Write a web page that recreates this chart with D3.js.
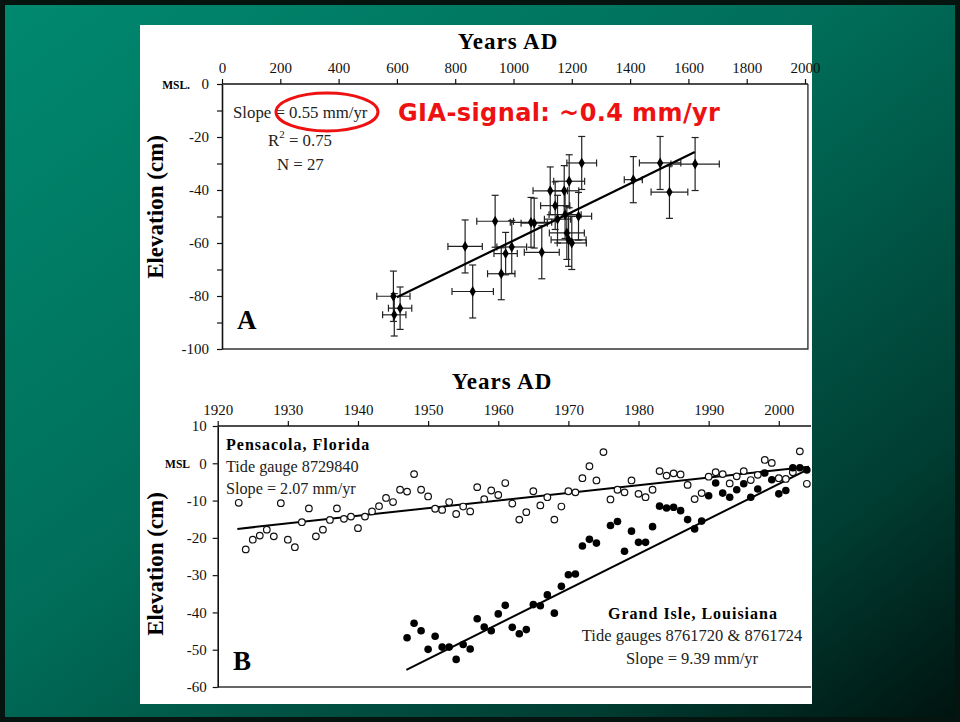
<!DOCTYPE html>
<html>
<head>
<meta charset="utf-8">
<script src="https://cdn.jsdelivr.net/npm/d3@7"></script>
<style>
  body { margin: 0; background: #000; }
  svg text { font-family: "Liberation Serif", "Times New Roman", serif; }
</style>
</head>
<body>
<div id="chart"></div>
<script>
// ---- panel A: salt-marsh index points (years AD, elevation cm, errors)
var yearsA = [588, 611, 591, 834, 860, 937, 958, 973, 994, 1060, 1071, 1097, 1126, 1143,
              1151, 1174, 1191, 1177, 1183, 1189, 1200, 1223, 1234, 1411, 1503, 1535, 1623];
var elevA  = [-80.1, -84.6, -87.1, -61.3, -78.3, -51.8, -71.6, -64.0, -61.5, -52.2, -52.5, -63.5, -40.3, -45.9,
              -51.0, -40.3, -36.7, -49.3, -56.2, -58.8, -60.0, -49.9, -29.8, -36.1, -29.8, -40.8, -30.2];
var xErrA  = [57, 40, 40, 59, 71, 63, 47, 40, 51, 71, 45, 60, 59, 50,
              45, 50, 53, 55, 60, 60, 50, 45, 51, 31, 71, 63, 83];
var yErrA  = [9.5, 8, 8, 10, 10, 9.8, 9.8, 8, 10, 9.4, 9.4, 10, 9, 9,
              9, 9.5, 10, 9, 10, 10, 10, 9, 10, 8.7, 10, 9.9, 10];
var fitYearsA = [600, 1622];
var fitElevA  = [-80.5, -25.7];
var ticksXA = d3.range(0, 2001, 200);
var ticksYA = d3.range(-100, 1, 10);

// ---- panel B: tide gauges
var yearsPen = [1923, 1924, 1925, 1926, 1927, 1928, 1929, 1930, 1931, 1932, 1933, 1934, 1935, 1936,
                1937, 1938, 1939, 1940, 1941, 1942, 1943, 1944, 1945, 1946, 1947, 1948, 1949, 1950,
                1951, 1952, 1953, 1954, 1955, 1956, 1957, 1958, 1959, 1960, 1961, 1962, 1963, 1964,
                1965, 1966, 1967, 1968, 1969, 1970, 1971, 1972, 1973, 1974, 1975, 1976, 1977, 1978,
                1979, 1980, 1981, 1982, 1983, 1984, 1985, 1986, 1987, 1988, 1989, 1990, 1991, 1992,
                1993, 1994, 1995, 1996, 1997, 1998, 1999, 2000, 2001, 2002, 2003, 2004];
var elevPen  = [-10.6, -23.1, -20.5, -19.4, -17.8, -19.6, -10.7, -20.5, -22.5, -15.8, -12.1, -19.6, -17.8, -15.2,
                -12.1, -14.9, -14.3, -17.4, -14.3, -12.9, -11.5, -9.3, -10.4, -7.1, -7.6, -2.9, -7.1, -8.9,
                -12.2, -12.5, -10.4, -13.6, -11.6, -12.9, -6.4, -9.6, -7.3, -8.5, -5.3, -10.8, -15.1, -13.1,
                -7.5, -11.3, -9.1, -15.1, -11.6, -7.5, -7.8, -4.0, -0.8, -4.6, 3.0, -9.7, -7.1, -7.8,
                -4.6, -8.2, -9.1, -7.1, -2.1, -3.3, -2.7, -3.0, -5.8, -9.6, -8.0, -3.6, -2.4, -2.9,
                -5.4, -3.5, -2.1, -4.5, -3.1, 0.9, 0.1, -4.0, -4.2, -2.4, 3.2, -5.5];
// Grand Isle (no reading for 1975)
var yearsGI  = [1947, 1948, 1949, 1950, 1951, 1952, 1953, 1954, 1955, 1956, 1957, 1958, 1959, 1960,
                1961, 1962, 1963, 1964, 1965, 1966, 1967, 1968, 1969, 1970, 1971, 1972, 1973, 1974,
                1976, 1977, 1978, 1979, 1980, 1981, 1982, 1983, 1984, 1985, 1986, 1987, 1988,
                1989, 1990, 1991, 1992, 1993, 1994, 1995, 1996, 1997, 1998, 1999, 2000, 2001, 2002,
                2003, 2004];
var elevGI   = [-46.8, -42.9, -44.9, -49.9, -46.4, -49.3, -49.3, -52.6, -48.6, -49.8, -41.7, -43.9, -44.9, -40.4,
                -38.1, -44.0, -45.7, -44.6, -37.9, -38.2, -35.3, -40.2, -33.0, -29.9, -29.7, -22.2, -20.4, -21.4,
                -16.7, -15.6, -23.6, -18.2, -21.2, -21.2, -17.0, -11.5, -12.0, -11.8, -12.7, -15.1, -17.6, -15.5,
                -8.7, -5.3, -8.0, -9.1, -7.1, -5.5, -9.1, -6.9, -2.6, -4.4, -8.2, -7.3, -1.2, -1.2,
                -1.8, -1.9];
var fitYearsPen = [1922.8, 2004.3];
var fitElevPen  = [-17.6, -0.9];
var fitYearsGI  = [1946.9, 2004.3];
var fitElevGI   = [-55.4, -1.5];
var ticksXB = d3.range(1920, 2001, 10);
var ticksYB = d3.range(-60, 11, 10);

var W = 960, H = 722;
var svg = d3.select("#chart").append("svg")
    .attr("width", W)
    .attr("height", H);

// slide background
var defs = svg.append("defs");
var grad = defs.append("linearGradient")
    .attr("id", "bg")
    .attr("x1", 0).attr("y1", 0).attr("x2", 1).attr("y2", 1);
grad.append("stop").attr("offset", "0%").attr("stop-color", "#00896f");
grad.append("stop").attr("offset", "45%").attr("stop-color", "#006d59");
grad.append("stop").attr("offset", "80%").attr("stop-color", "#003d32");
grad.append("stop").attr("offset", "100%").attr("stop-color", "#00120e");
svg.append("rect").attr("width", W).attr("height", H).attr("fill", "url(#bg)");
svg.append("rect")
    .attr("x", 2.5).attr("y", 2.5).attr("width", W - 5).attr("height", H - 5)
    .attr("fill", "none").attr("stroke", "#06140f").attr("stroke-width", 5);

// white figure panel
svg.append("rect")
    .attr("x", 140).attr("y", 25).attr("width", 672).attr("height", 679)
    .attr("fill", "#fff");

function styleAxis(g) {
  g.selectAll("path.domain").attr("stroke", "#111").attr("stroke-width", 1.6);
  g.selectAll(".tick line").attr("stroke", "#111").attr("stroke-width", 1.2);
  g.selectAll(".tick text")
    .attr("fill", "#111")
    .style("font-family", "'Liberation Serif', serif")
    .style("font-size", "15px");
}

// ================= panel A =================
var xA = d3.scaleLinear().domain([0, 2000]).range([222, 805]);
var yA = d3.scaleLinear().domain([-100, 0]).range([349, 84]);

var gA = svg.append("g");

// frame (right and bottom)
gA.append("path")
    .attr("d", "M" + xA(0) + "," + yA(-100) + "H" + xA(2010) + "V" + yA(0))
    .attr("fill", "none").attr("stroke", "#333").attr("stroke-width", 1.4);

gA.append("g")
    .attr("transform", "translate(0," + yA(0) + ")")
    .call(d3.axisTop(xA).tickValues(ticksXA).tickSize(5).tickPadding(6).tickSizeOuter(0).tickFormat(d3.format("d")))
    .call(styleAxis)
  .select("path.domain").attr("d", "M" + xA(0) + ",0H" + xA(2010));

gA.append("g")
    .attr("transform", "translate(" + xA(0) + ",0)")
    .call(d3.axisLeft(yA).tickValues(ticksYA).tickSize(5).tickPadding(8).tickSizeOuter(0)
      .tickFormat(function(d) { return (d % 20 === 0) ? String(d) : ""; }))
    .call(styleAxis);

gA.append("text")
    .attr("x", 190).attr("y", yA(0) + 5)
    .attr("text-anchor", "end")
    .attr("font-size", "11.5px").attr("font-weight", "bold")
    .text("MSL.");

gA.append("text")
    .attr("x", 508).attr("y", 49)
    .attr("text-anchor", "middle")
    .attr("font-size", "23px").attr("font-weight", "bold")
    .attr("letter-spacing", "1px")
    .text("Years AD");

gA.append("text")
    .attr("transform", "translate(163," + 207 + ") rotate(-90)")
    .attr("text-anchor", "middle")
    .attr("font-size", "23px").attr("font-weight", "bold")
    .text("Elevation (cm)");

// error bars
var ptsA = yearsA.map(function(d, i) {
  return {yr: d, el: elevA[i], ex: xErrA[i], ey: yErrA[i]};
});
var eb = gA.selectAll("g.eb").data(ptsA).enter().append("g")
    .attr("stroke", "#222").attr("stroke-width", 1.2);
eb.append("line")
    .attr("x1", function(d) { return xA(d.yr - d.ex); })
    .attr("x2", function(d) { return xA(d.yr + d.ex); })
    .attr("y1", function(d) { return yA(d.el); })
    .attr("y2", function(d) { return yA(d.el); });
eb.append("line")
    .attr("x1", function(d) { return xA(d.yr); })
    .attr("x2", function(d) { return xA(d.yr); })
    .attr("y1", function(d) { return yA(d.el - d.ey); })
    .attr("y2", function(d) { return yA(d.el + d.ey); });
// caps
[-1, 1].forEach(function(s) {
  eb.append("line")
      .attr("x1", function(d) { return xA(d.yr + s * d.ex); })
      .attr("x2", function(d) { return xA(d.yr + s * d.ex); })
      .attr("y1", function(d) { return yA(d.el) - 3.5; })
      .attr("y2", function(d) { return yA(d.el) + 3.5; });
  eb.append("line")
      .attr("x1", function(d) { return xA(d.yr) - 3.5; })
      .attr("x2", function(d) { return xA(d.yr) + 3.5; })
      .attr("y1", function(d) { return yA(d.el + s * d.ey); })
      .attr("y2", function(d) { return yA(d.el + s * d.ey); });
});

// regression line
var fitA = fitYearsA.map(function(d, i) { return [d, fitElevA[i]]; });
gA.append("path")
    .datum(fitA)
    .attr("d", d3.line().x(function(d) { return xA(d[0]); }).y(function(d) { return yA(d[1]); }))
    .attr("stroke", "#000").attr("stroke-width", 2.2).attr("fill", "none");

// diamonds
gA.selectAll("path.pt").data(ptsA).enter().append("path")
    .attr("class", "pt")
    .attr("d", d3.symbol().type(d3.symbolDiamond).size(34))
    .attr("transform", function(d) { return "translate(" + xA(d.yr) + "," + yA(d.el) + ")"; })
    .attr("fill", "#000");

// stats text
gA.append("text").attr("x", 233).attr("y", 118).attr("font-size", "16.8px").attr("fill", "#222")
    .text("Slope = 0.55 mm/yr");
var r2 = gA.append("text").attr("x", 268).attr("y", 146).attr("font-size", "16.8px").attr("fill", "#222");
r2.append("tspan").text("R");
r2.append("tspan").attr("dy", -8).attr("font-size", "11px").text("2");
r2.append("tspan").attr("dy", 8).text(" = 0.75");
gA.append("text").attr("x", 277).attr("y", 170).attr("font-size", "16.8px").attr("fill", "#222")
    .text("N = 27");

gA.append("ellipse")
    .attr("cx", 327).attr("cy", 112).attr("rx", 51).attr("ry", 19)
    .attr("fill", "none").attr("stroke", "#ee1111").attr("stroke-width", 3);

gA.append("text")
    .attr("x", 398).attr("y", 121)
    .attr("font-size", "24px").attr("font-weight", "bold")
    .attr("letter-spacing", "0.4px")
    .attr("fill", "#ee1111")
    .style("font-family", "'DejaVu Sans', Verdana, sans-serif")
    .text("GIA-signal: ~0.4 mm/yr");

gA.append("text").attr("x", 237).attr("y", 329)
    .attr("font-size", "27px").attr("font-weight", "bold")
    .text("A");

// ================= panel B =================
var xB = d3.scaleLinear().domain([1920, 2000]).range([217.7, 778.8]);
var yB = d3.scaleLinear().domain([-60, 10]).range([687, 426]);

var gB = svg.append("g");

gB.append("path")
    .attr("d", "M" + xB(1920) + "," + yB(-60) + "H" + xB(2004.6))
    .attr("fill", "none").attr("stroke", "#333").attr("stroke-width", 1.4);

gB.append("g")
    .attr("transform", "translate(0," + yB(10) + ")")
    .call(d3.axisTop(xB).tickValues(ticksXB).tickSize(5).tickPadding(6).tickSizeOuter(0).tickFormat(d3.format("d")))
    .call(styleAxis)
  .select("path.domain").attr("d", "M" + xB(1920) + ",0H" + xB(2004.6));

gB.append("g")
    .attr("transform", "translate(" + xB(1920) + ",0)")
    .call(d3.axisLeft(yB).tickValues(ticksYB).tickSize(5).tickPadding(6).tickSizeOuter(0)
      .tickFormat(function(d) { return String(d); }))
    .call(styleAxis);

gB.append("text")
    .attr("x", 190).attr("y", yB(0) + 5)
    .attr("text-anchor", "end")
    .attr("font-size", "11.5px").attr("font-weight", "bold")
    .text("MSL");

gB.append("text")
    .attr("x", 502).attr("y", 389)
    .attr("text-anchor", "middle")
    .attr("font-size", "23px").attr("font-weight", "bold")
    .attr("letter-spacing", "1px")
    .text("Years AD");

gB.append("text")
    .attr("transform", "translate(163," + 564 + ") rotate(-90)")
    .attr("text-anchor", "middle")
    .attr("font-size", "23px").attr("font-weight", "bold")
    .text("Elevation (cm)");

var lineB = d3.line().x(function(d) { return xB(d[0]); }).y(function(d) { return yB(d[1]); });
gB.append("path")
    .datum(fitYearsPen.map(function(d, i) { return [d, fitElevPen[i]]; }))
    .attr("d", lineB).attr("stroke", "#000").attr("stroke-width", 2).attr("fill", "none");
gB.append("path")
    .datum(fitYearsGI.map(function(d, i) { return [d, fitElevGI[i]]; }))
    .attr("d", lineB).attr("stroke", "#000").attr("stroke-width", 2).attr("fill", "none");

gB.selectAll("circle.pen").data(yearsPen).enter().append("circle")
    .attr("class", "pen")
    .attr("cx", function(d) { return xB(d); })
    .attr("cy", function(d, i) { return yB(elevPen[i]); })
    .attr("r", 3.3)
    .attr("fill", "#fff").attr("stroke", "#111").attr("stroke-width", 1.2);

gB.selectAll("circle.gi").data(yearsGI).enter().append("circle")
    .attr("class", "gi")
    .attr("cx", function(d) { return xB(d); })
    .attr("cy", function(d, i) { return yB(elevGI[i]); })
    .attr("r", 3.8)
    .attr("fill", "#000");

gB.append("text").attr("x", 226).attr("y", 450)
    .attr("font-size", "16px").attr("font-weight", "bold").attr("letter-spacing", "1px")
    .text("Pensacola, Florida");
gB.append("text").attr("x", 226).attr("y", 472)
    .attr("font-size", "16.2px").attr("fill", "#222").text("Tide gauge 8729840");
gB.append("text").attr("x", 226).attr("y", 494)
    .attr("font-size", "16.2px").attr("fill", "#222").text("Slope = 2.07 mm/yr");

gB.append("text").attr("x", 693).attr("y", 619).attr("text-anchor", "middle")
    .attr("font-size", "16px").attr("font-weight", "bold").attr("letter-spacing", "1px")
    .text("Grand Isle, Louisiana");
gB.append("text").attr("x", 692).attr("y", 641).attr("text-anchor", "middle")
    .attr("font-size", "16.5px").attr("fill", "#222").text("Tide gauges 8761720 & 8761724");
gB.append("text").attr("x", 692).attr("y", 664).attr("text-anchor", "middle")
    .attr("font-size", "16.5px").attr("fill", "#222").text("Slope = 9.39 mm/yr");

gB.append("text").attr("x", 233).attr("y", 670)
    .attr("font-size", "27px").attr("font-weight", "bold")
    .text("B");
</script>
</body>
</html>
